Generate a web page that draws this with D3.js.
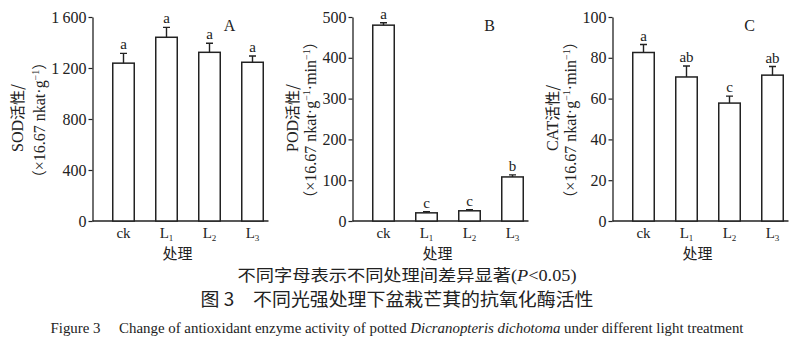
<!DOCTYPE html>
<html>
<head>
<meta charset="utf-8">
<script src="https://cdn.jsdelivr.net/npm/d3@7"></script>
<style>
  body { margin: 0; background: #fff; }
  svg text { font-family: "Liberation Serif", "Noto Sans CJK SC", serif; fill: #222; }
</style>
</head>
<body>
<div id="main"></div>
<script>
// data
const categories = ["ck", "L1", "L2", "L3"];

const sodMean = [1238, 1441, 1323, 1245];
const sodErr = [77, 78, 71, 49];
const sodLetters = ["a", "a", "a", "a"];
const sodTicks = [0, 400, 800, 1200, 1600];

const podMean = [480, 20, 25, 108];
const podErr = [6, 3, 3, 5];
const podLetters = ["a", "c", "c", "b"];
const podTicks = [0, 100, 200, 300, 400, 500];

const catMean = [82.6, 70.6, 57.8, 71.5];
const catErr = [3.9, 5.4, 3.4, 4.2];
const catLetters = ["a", "ab", "c", "ab"];
const catTicks = [0, 20, 40, 60, 80, 100];

const ctx = {
    width: 800,
    height: 349,
    top: 17,
    bottom: 221,
    axisLen: 176
};

const cjk = "'Noto Sans CJK SC', sans-serif";
const thin = d3.formatLocale({decimal: ".", thousands: "\u2009", grouping: [3], currency: ["", ""]}).format(",");

const panels = [
    {name: "A", ax: 92.5, mean: sodMean, err: sodErr, letters: sodLetters, ticks: sodTicks, lab1: "SOD", l1x: 17, l2x: 39, min: false},
    {name: "B", ax: 352.5, mean: podMean, err: podErr, letters: podLetters, ticks: podTicks, lab1: "POD", l1x: 292, l2x: 310, min: true},
    {name: "C", ax: 612.5, mean: catMean, err: catErr, letters: catLetters, ticks: catTicks, lab1: "CAT", l1x: 552, l2x: 570, min: true}
];

const svg = d3.select("#main").append("svg")
    .attr("width", ctx.width)
    .attr("height", ctx.height);

panels.forEach(p => {
    const g = svg.append("g");
    const y = d3.scaleLinear()
        .domain([0, d3.max(p.ticks)])
        .range([ctx.bottom, ctx.top]);
    const x = d3.scaleBand()
        .domain(categories)
        .range([p.ax + 9.5, p.ax + 181.5])
        .paddingInner(0.5)
        .paddingOuter(0.25);

    // y axis
    const yAxis = g.append("g")
        .attr("transform", `translate(${p.ax},0)`)
        .call(d3.axisLeft(y).tickValues(p.ticks).tickSize(4).tickSizeOuter(0).tickPadding(2).tickFormat(thin));
    yAxis.select(".domain").attr("stroke", "#222").attr("stroke-width", 1.3);
    yAxis.selectAll(".tick line").attr("stroke", "#222").attr("stroke-width", 1.2);
    yAxis.selectAll(".tick text")
        .style("font-family", "'Liberation Serif', serif")
        .style("font-size", "16px")
        .attr("fill", "#222");

    // x axis
    const xAxis = g.append("g")
        .attr("transform", `translate(0,${ctx.bottom})`)
        .call(d3.axisBottom(x).tickSize(0).tickPadding(6));
    xAxis.select(".domain").remove();
    g.append("line")
        .attr("x1", p.ax).attr("x2", p.ax + ctx.axisLen)
        .attr("y1", ctx.bottom).attr("y2", ctx.bottom)
        .attr("stroke", "#222").attr("stroke-width", 1.3);
    xAxis.selectAll(".tick text")
        .style("font-family", "'Liberation Serif', serif")
        .style("font-size", "15px")
        .attr("fill", "#222")
        .each(function(d) {
            const t = d3.select(this).text(null);
            if (d === "ck") { t.text("ck"); return; }
            t.append("tspan").text(d[0]);
            t.append("tspan").attr("dy", 3).style("font-size", "9px").text(d.slice(1));
        });

    // bars
    g.selectAll(".bar")
        .data(p.mean)
        .enter()
        .append("rect")
        .attr("class", "bar")
        .attr("x", (d, i) => x(categories[i]))
        .attr("width", x.bandwidth())
        .attr("y", d => y(d))
        .attr("height", d => ctx.bottom - y(d))
        .attr("fill", "#fff")
        .attr("stroke", "#222")
        .attr("stroke-width", 1.5);

    // error bars (upper only)
    const cx = i => x(categories[i]) + x.bandwidth() / 2;
    g.selectAll(".err")
        .data(p.mean)
        .enter()
        .append("path")
        .attr("class", "err")
        .attr("d", (d, i) => `M${cx(i)},${y(d)}V${y(d + p.err[i])}M${cx(i) - 3.5},${y(d + p.err[i])}H${cx(i) + 3.5}`)
        .attr("fill", "none")
        .attr("stroke", "#222")
        .attr("stroke-width", 1.4);

    // significance letters
    g.selectAll(".sig")
        .data(p.mean)
        .enter()
        .append("text")
        .attr("class", "sig")
        .attr("x", (d, i) => cx(i))
        .attr("y", (d, i) => y(d + p.err[i]) - 4)
        .attr("text-anchor", "middle")
        .style("font-size", "15px")
        .text((d, i) => p.letters[i]);

    // panel tag
    g.append("text")
        .attr("x", p.ax + 137)
        .attr("y", 31)
        .attr("text-anchor", "middle")
        .style("font-size", "16px")
        .text(p.name);

    // x title
    g.append("text")
        .attr("x", p.ax + 85)
        .attr("y", 259)
        .attr("text-anchor", "middle")
        .style("font-family", cjk)
        .style("font-size", "15px")
        .text("处理");

    // y title, two lines
    const l1 = g.append("text")
        .attr("transform", `translate(${p.l1x},118) rotate(-90)`)
        .attr("text-anchor", "middle")
        .attr("dy", "0.35em")
        .style("font-size", "16px");
    l1.append("tspan").text(p.lab1);
    l1.append("tspan").style("font-family", cjk).style("font-size", "15px").text("活性/");

    const l2 = g.append("text")
        .attr("transform", `translate(${p.l2x},120) rotate(-90)`)
        .attr("text-anchor", "middle")
        .attr("dy", "0.35em")
        .style("font-size", "16px");
    l2.append("tspan").style("font-family", cjk).style("font-size", "15px").text("（");
    l2.append("tspan").text("×16.67 nkat·g");
    l2.append("tspan").attr("dy", -6).style("font-size", "10px").text("−1");
    if (p.min) {
        l2.append("tspan").attr("dy", 6).text("·min");
        l2.append("tspan").attr("dy", -6).style("font-size", "10px").text("−1");
    }
    l2.append("tspan").attr("dy", 6).style("font-family", cjk).style("font-size", "15px").text("）");
});

// captions
svg.append("text")
    .attr("x", 407).attr("y", 281)
    .attr("text-anchor", "middle")
    .attr("textLength", 339).attr("lengthAdjust", "spacingAndGlyphs")
    .style("font-size", "16px")
    .html("<tspan style=\"font-family:'Noto Sans CJK SC'\">不同字母表示不同处理间差异显著</tspan>(<tspan font-style=\"italic\">P</tspan>&lt;0.05)");

svg.append("text")
    .attr("x", 397).attr("y", 306)
    .attr("text-anchor", "middle")
    .attr("textLength", 393).attr("lengthAdjust", "spacingAndGlyphs")
    .style("font-family", cjk)
    .style("font-size", "18px")
    .text("图 3\u3000不同光强处理下盆栽芒萁的抗氧化酶活性");

svg.append("text")
    .attr("x", 397).attr("y", 333)
    .attr("text-anchor", "middle")
    .attr("textLength", 693).attr("lengthAdjust", "spacingAndGlyphs")
    .style("font-size", "14px")
    .html("Figure 3\u2003 Change of antioxidant enzyme activity of potted <tspan font-style=\"italic\">Dicranopteris dichotoma</tspan> under different light treatment");
</script>
</body>
</html>
